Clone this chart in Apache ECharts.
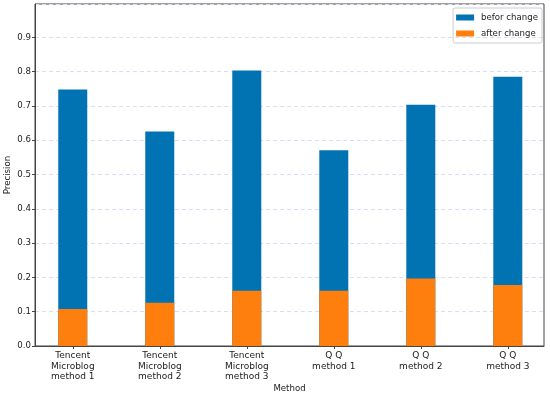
<!DOCTYPE html>
<html>
<head>
<meta charset="utf-8">
<script src="https://cdn.jsdelivr.net/npm/echarts@6/dist/echarts.min.js"></script>
<style>html,body{margin:0;padding:0;background:#fff}#c{width:550px;height:394px}</style>
</head>
<body>
<div id="c"></div>
<script>
const categories = ['Tencent\nMicroblog\nmethod 1', 'Tencent\nMicroblog\nmethod 2', 'Tencent\nMicroblog\nmethod 3', 'Q Q\nmethod 1', 'Q Q\nmethod 2', 'Q Q\nmethod 3'];
const beforChange = [0.748, 0.625, 0.803, 0.571, 0.703, 0.785];
const afterChange = [0.108, 0.126, 0.161, 0.161, 0.197, 0.178];
const positions = [0, 1, 2, 3, 4, 5];

const chart = echarts.init(document.getElementById('c'), null, {renderer: 'canvas'});
const font = 'DejaVu Sans';
const txt = '#222';
chart.setOption({
  animation: false,
  textStyle: {fontFamily: font},
  legend: {
    orient: 'vertical', right: 8, top: 8, padding: [5, 4, 5, 3],
    itemWidth: 18, itemHeight: 6, itemGap: 7,
    borderColor: '#ccc', borderWidth: 1, borderRadius: 2,
    textStyle: {fontFamily: font, fontSize: 8.6, color: txt, padding: [0, 0, 0, 2]},
    data: [{name: 'befor change', icon: 'rect'}, {name: 'after change', icon: 'rect'}]
  },
  grid: {left: 35, right: 6, top: 4, bottom: 48, containLabel: false, outerBoundsMode: 'none',
    show: true, borderColor: '#444', borderWidth: 1, backgroundColor: 'transparent'},
  xAxis: {
    type: 'value', min: -0.434, max: 5.416,
    name: 'Method', nameLocation: 'middle', nameGap: 38.5, nameMoveOverlap: false,
    nameTextStyle: {fontFamily: font, fontSize: 8.6, color: txt},
    axisLine: {show: true, onZero: false, lineStyle: {color: '#444'}},
    axisTick: {show: true, length: 3, customValues: positions, lineStyle: {color: '#444'}},
    axisLabel: {customValues: positions, margin: 5, fontFamily: font, fontSize: 9, color: txt, lineHeight: 10.3,
      formatter: v => categories[Math.round(v)]},
    splitLine: {show: false}
  },
  yAxis: {
    type: 'value', min: 0, max: 0.997, interval: 0.1,
    name: 'Precision', nameLocation: 'middle', nameGap: 23, nameRotate: 90, nameMoveOverlap: false,
    nameTextStyle: {fontFamily: font, fontSize: 8.6, color: txt},
    axisLine: {show: true, onZero: false, lineStyle: {color: '#444'}},
    axisTick: {show: true, length: 3, lineStyle: {color: '#444'}},
    axisLabel: {showMaxLabel: false, margin: 4, fontFamily: font, fontSize: 8.6, color: txt, formatter: v => v.toFixed(1)},
    splitLine: {show: true, lineStyle: {color: '#d9ddf2', type: [4, 3], width: 1}}
  },
  series: [
    {name: 'befor change', type: 'bar', barWidth: 29, barGap: '-100%', itemStyle: {color: '#0173b2'},
      data: positions.map((p, i) => [p, beforChange[i]])},
    {name: 'after change', type: 'bar', barWidth: 29, barGap: '-100%', itemStyle: {color: '#ff7f0e'},
      data: positions.map((p, i) => [p, afterChange[i]])}
  ]
});
</script>
</body>
</html>
